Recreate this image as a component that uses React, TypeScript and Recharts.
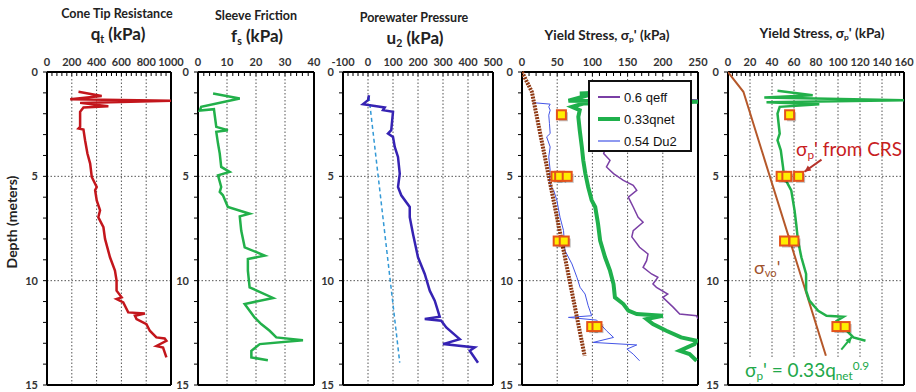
import React from "react";
import { ReferenceLine, Scatter, ScatterChart, XAxis, YAxis } from "recharts";

// [depth (m), value (kPa)]
type Pt = [number, number];

const qtProfile: Pt[] = [
  [0.95, 254], [1.15, 441], [1.3, 187], [1.38, 1000], [1.48, 267], [1.64, 495], [1.7, 294],
  [1.91, 267], [2.63, 267], [2.71, 254], [2.76, 294], [3.27, 307], [3.91, 326], [4.39, 348],
  [5.03, 361], [5.51, 401], [5.67, 388], [6.15, 401], [6.63, 428], [6.96, 414], [7.44, 455],
  [8.0, 468], [8.88, 508], [9.52, 548], [10.0, 561], [10.48, 561], [10.8, 602], [10.88, 561],
  [11.04, 615], [11.52, 655], [11.57, 789], [11.68, 709], [11.84, 722], [12.08, 802],
  [12.4, 829], [12.72, 882], [12.77, 949], [12.88, 963], [13.13, 882], [13.21, 936], [13.68, 963],
];

const fsProfile: Pt[] = [
  [1.03, 5.2], [1.27, 14.4], [1.67, 1.1], [1.85, 0.6], [1.78, 5.5], [2.0, 5.7], [2.63, 6.3],
  [2.79, 10.3], [2.87, 6.3], [3.43, 6.9], [3.91, 7.5], [4.55, 8.0], [4.79, 10.9], [4.95, 6.9],
  [5.51, 8.0], [5.75, 7.5], [5.91, 8.6], [6.47, 10.3], [6.79, 17.8], [6.92, 14.4], [7.6, 14.9],
  [8.4, 16.1], [8.8, 23.0], [8.96, 17.2], [9.52, 17.2], [10.32, 17.8], [10.83, 25.9],
  [11.12, 16.1], [11.76, 19.5], [12.08, 21.8], [12.4, 24.7], [12.72, 27.0], [12.85, 36.2],
  [13.04, 21.3], [13.36, 18.4], [13.68, 18.4], [13.81, 24.1],
];

const u2Profile: Pt[] = [
  [1.11, 4], [1.35, 0], [1.54, -20], [1.7, 67], [1.83, 60], [1.91, 100], [2.79, 93], [2.95, 80],
  [3.11, 100], [3.59, 107], [4.07, 120], [4.87, 127], [5.51, 120], [5.91, 133], [6.47, 167],
  [6.96, 167], [7.76, 180], [8.88, 200], [9.68, 227], [10.48, 247], [10.96, 267], [11.73, 287],
  [11.84, 227], [11.92, 293], [12.24, 313], [12.8, 367], [13.04, 300], [13.2, 427],
  [13.36, 407], [13.93, 440],
];

const u0Line: Pt[] = [[1.2, 4], [13.93, 127]];

const sigmaVo: Pt[] = [[0, 0], [0.95, 14], [13.6, 89]];

const qeff06: Pt[] = [
  [1.2, 150], [1.35, 252], [1.5, 240], [1.6, 140], [2.0, 130], [2.8, 125], [3.5, 120],
  [3.91, 116], [4.23, 125], [4.55, 120], [4.87, 130], [5.19, 144], [5.43, 158], [5.67, 163],
  [6.0, 151], [6.47, 158], [6.96, 165], [7.2, 172], [7.6, 158], [7.9, 156], [8.4, 167],
  [8.72, 179], [9.04, 177], [9.36, 172], [9.68, 184], [9.84, 193], [10.16, 186], [10.32, 191],
  [10.64, 207], [10.8, 200], [11.28, 215], [11.6, 224], [11.68, 248], [11.84, 250],
];

const qnet033: Pt[] = [
  [1.03, 82], [1.0, 106], [1.38, 66], [1.43, 250], [1.51, 87], [1.67, 71], [1.83, 82],
  [2.15, 80], [2.79, 82], [3.59, 85], [4.23, 87], [4.87, 90], [5.51, 94], [6.15, 99],
  [6.47, 104], [7.28, 108], [8.08, 111], [8.88, 118], [9.52, 125], [10.16, 130], [10.8, 132],
  [11.12, 144], [11.44, 151], [11.6, 163], [11.68, 200], [11.84, 177], [12.08, 186],
  [12.4, 205], [12.72, 226], [12.88, 248], [13.04, 245], [13.36, 224], [13.52, 238], [13.84, 248],
];

const du2054: Pt[] = [
  [1.47, 16], [1.54, 40], [1.67, 38], [1.83, 40], [2.07, 38], [2.47, 39], [2.95, 40],
  [3.11, 35], [3.59, 40], [4.07, 38], [4.71, 40], [5.19, 39], [5.51, 41], [5.67, 45],
  [6.15, 49.5], [6.96, 54], [7.6, 59], [8.56, 61], [9.2, 71], [9.84, 78], [10.32, 82.5],
  [10.64, 89.6], [11.2, 94], [11.68, 99], [11.76, 66], [11.89, 106], [12.4, 120], [12.72, 130],
  [12.96, 101], [13.08, 163], [13.28, 149], [13.52, 158], [13.84, 167],
];

const qnet09: Pt[] = [
  [0.9, 45], [1.11, 77], [1.22, 33], [1.35, 160], [1.45, 35], [1.54, 83], [1.67, 47],
  [1.99, 45], [2.95, 47], [3.27, 45], [3.75, 48], [4.55, 50], [5.03, 51], [5.67, 57.5],
  [6.63, 60.5], [7.28, 62], [8.08, 63.6], [8.88, 66.7], [9.68, 71], [10.48, 71], [10.96, 74],
  [11.44, 82], [11.68, 89.6], [11.73, 105], [11.92, 99], [12.4, 108], [12.72, 114], [12.88, 125],
];

// CRS oedometer preconsolidation stresses
const crsPoints: Pt[] = [
  [2.05, 56], [5.0, 48.3], [5.0, 53.5], [5.0, 64.2], [8.1, 51.4], [8.1, 60], [12.2, 99], [12.2, 106.5],
];

const depthTicks = Array.from({ length: 16 }, (_, i) => i);
const depthMajors = [0, 5, 10, 15];

const TOP = 72;
const BOTTOM = 385;
const H = 392;
const YW = 42;
const XH = 22;
const RM = 18;
const FONT = "Lato, 'Liberation Sans', Arial, sans-serif";

const rows = (pts: Pt[]) => pts.map(([d, v]) => ({ d, v }));
const noDot = () => null;

function XTick(props: any) {
  const { x, y, payload, majors } = props;
  if (!majors.includes(payload.value)) return null;
  return (
    <text x={x} y={y} textAnchor="middle" fontSize={11} fontWeight={700} fill="#333" fontFamily={FONT}>
      {payload.value}
    </text>
  );
}

function YTick(props: any) {
  const { x, y, payload } = props;
  if (!depthMajors.includes(payload.value)) return null;
  return (
    <text x={x} y={y} dy={4} textAnchor="end" fontSize={11} fontWeight={700} fill="#333" fontFamily={FONT}>
      {payload.value}
    </text>
  );
}

function CrsSquare(props: any) {
  const { cx, cy } = props;
  return (
    <g>
      <rect x={cx - 2.5} y={cy - 2.5} width={9} height={9} fill="rgba(0,0,0,0.25)" />
      <rect x={cx - 4.5} y={cy - 4.5} width={9} height={9} fill="#ffee00" stroke="#e4521b" strokeWidth={2} />
    </g>
  );
}

const arrowShape = (color: string) => (p: any) => {
  const { x1, y1, x2, y2 } = p;
  const a = Math.atan2(y2 - y1, x2 - x1);
  const s = 7;
  const h1 = [x2 - s * Math.cos(a - 0.45), y2 - s * Math.sin(a - 0.45)];
  const h2 = [x2 - s * Math.cos(a + 0.45), y2 - s * Math.sin(a + 0.45)];
  return (
    <g>
      <line x1={x1} y1={y1} x2={x2} y2={y2} stroke={color} strokeWidth={2} />
      <polygon points={`${x2},${y2} ${h1[0]},${h1[1]} ${h2[0]},${h2[1]}`} fill={color} />
    </g>
  );
};

interface PanelProps {
  left: number;
  right: number;
  domain: [number, number];
  majors: number[];
  minorStep: number;
  children?: React.ReactNode;
}

function Panel({ left, right, domain, majors, minorStep, children }: PanelProps) {
  const minors: number[] = [];
  for (let t = domain[0]; t <= domain[1] + 1e-9; t += minorStep) minors.push(Math.round(t * 1000) / 1000);
  const width = right - left + YW + RM;
  return (
    <div style={{ position: "absolute", left: left - YW, top: 0 }}>
      <ScatterChart width={width} height={H} margin={{ top: TOP - XH, right: RM, bottom: H - BOTTOM, left: 0 }}>
        <XAxis
          type="number"
          dataKey="v"
          orientation="top"
          domain={domain}
          ticks={minors}
          interval={0}
          height={XH}
          tickSize={-4}
          tickMargin={10}
          tick={<XTick majors={majors} />}
          axisLine={{ stroke: "#000", strokeWidth: 2 }}
          tickLine={{ stroke: "#000" }}
          allowDataOverflow
        />
        <YAxis
          type="number"
          dataKey="d"
          reversed
          domain={[0, 15]}
          ticks={depthTicks}
          interval={0}
          width={YW}
          tickSize={4}
          tickMargin={5}
          tick={<YTick />}
          axisLine={{ stroke: "#000", strokeWidth: 2 }}
          tickLine={{ stroke: "#000" }}
        />
        {majors
          .filter((m) => m > domain[0] && m < domain[1])
          .map((m) => (
            <ReferenceLine key={`x${m}`} x={m} stroke="#555" strokeDasharray="1.5 2" />
          ))}
        <ReferenceLine y={5} stroke="#555" strokeDasharray="1.5 2" />
        <ReferenceLine y={10} stroke="#555" strokeDasharray="1.5 2" />
        <ReferenceLine x={domain[1]} stroke="#000" strokeWidth={2} />
        <ReferenceLine y={15} stroke="#000" strokeWidth={2} />
        {children}
      </ScatterChart>
    </div>
  );
}

function Title({ cx, cy, size, weight = 700, color = "#222", children }: any) {
  return (
    <div
      style={{
        position: "absolute",
        left: cx - 150,
        top: cy - size * 0.6,
        width: 300,
        textAlign: "center",
        fontSize: size,
        fontWeight: weight,
        lineHeight: 1.2,
        color,
        fontFamily: FONT,
        whiteSpace: "nowrap",
      }}
    >
      {children}
    </div>
  );
}

const subStyle: React.CSSProperties = { fontSize: "0.62em", verticalAlign: "-0.25em", lineHeight: 0 };
const supStyle: React.CSSProperties = { fontSize: "0.62em", verticalAlign: "0.6em", lineHeight: 0 };

function Note({ left, top, size, color, bg, children }: any) {
  return (
    <div
      style={{
        position: "absolute",
        left,
        top,
        fontSize: size,
        color,
        fontFamily: FONT,
        lineHeight: 1.2,
        whiteSpace: "nowrap",
        background: bg,
        padding: bg ? "0 2px" : 0,
      }}
    >
      {children}
    </div>
  );
}

const legendItems = [
  { label: "0.6 qeff", color: "#7a3fa5", width: 2 },
  { label: "0.33qnet", color: "#1fb04c", width: 4 },
  { label: "0.54 Du2", color: "#4455e6", width: 1.2 },
];

export default function App() {
  return (
    <div style={{ position: "absolute", left: 0, top: 0, width: 916, height: 392, background: "#fff", overflow: "hidden" }}>
      <Panel left={47} right={171} domain={[0, 1000]} majors={[0, 200, 400, 600, 800, 1000]} minorStep={40}>
        <Scatter data={rows(qtProfile)} shape={noDot} line={{ stroke: "#c3161c", strokeWidth: 2.5 }} isAnimationActive={false} />
      </Panel>

      <Panel left={198} right={314} domain={[0, 40]} majors={[0, 10, 20, 30, 40]} minorStep={2}>
        <Scatter data={rows(fsProfile)} shape={noDot} line={{ stroke: "#22b04a", strokeWidth: 2.5 }} isAnimationActive={false} />
      </Panel>

      <Panel left={343} right={493} domain={[-100, 500]} majors={[-100, 0, 100, 200, 300, 400, 500]} minorStep={20}>
        <Scatter data={rows(u0Line)} shape={noDot} line={{ stroke: "#3399d6", strokeWidth: 1.5, strokeDasharray: "4 3" }} isAnimationActive={false} />
        <Scatter data={rows(u2Profile)} shape={noDot} line={{ stroke: "#3623b3", strokeWidth: 2.5 }} isAnimationActive={false} />
      </Panel>

      <Panel left={522} right={698} domain={[0, 250]} majors={[0, 50, 100, 150, 200, 250]} minorStep={10}>
        <Scatter data={rows(qeff06)} shape={noDot} line={{ stroke: "#7a3fa5", strokeWidth: 1.5 }} isAnimationActive={false} />
        <Scatter data={rows(du2054)} shape={noDot} line={{ stroke: "#4455e6", strokeWidth: 1 }} isAnimationActive={false} />
        <Scatter data={rows(qnet033)} shape={noDot} line={{ stroke: "#1fb04c", strokeWidth: 4 }} isAnimationActive={false} />
        <Scatter data={rows(sigmaVo)} shape={noDot} line={{ stroke: "#8e3812", strokeWidth: 4, strokeDasharray: "2 1" }} isAnimationActive={false} />
        <Scatter data={rows(crsPoints)} shape={<CrsSquare />} isAnimationActive={false} />
      </Panel>

      <Panel left={728} right={904} domain={[0, 160]} majors={[0, 20, 40, 60, 80, 100, 120, 140, 160]} minorStep={4}>
        <Scatter data={rows(sigmaVo)} shape={noDot} line={{ stroke: "#b5582a", strokeWidth: 2 }} isAnimationActive={false} />
        <Scatter data={rows(qnet09)} shape={noDot} line={{ stroke: "#22b04a", strokeWidth: 2.5 }} isAnimationActive={false} />
        <Scatter data={rows(crsPoints)} shape={<CrsSquare />} isAnimationActive={false} />
        <ReferenceLine segment={[{ x: 85, y: 4.2 }, { x: 69.5, y: 4.78 }]} shape={arrowShape("#b5322a")} />
        <ReferenceLine segment={[{ x: 103, y: 13.3 }, { x: 112.5, y: 12.7 }]} shape={arrowShape("#22b04a")} />
      </Panel>

      {/* panel titles */}
      <Title cx={117} cy={13} size={12.5}>Cone Tip Resistance</Title>
      <Title cx={118} cy={34} size={17}>
        q<span style={subStyle}>t</span> (kPa)
      </Title>
      <Title cx={256} cy={15} size={12.5}>Sleeve Friction</Title>
      <Title cx={257} cy={36} size={17}>
        f<span style={subStyle}>s</span> (kPa)
      </Title>
      <Title cx={414} cy={17} size={12.5}>Porewater Pressure</Title>
      <Title cx={415} cy={38} size={17}>
        u<span style={subStyle}>2</span> (kPa)
      </Title>
      <Title cx={607} cy={35} size={13.5}>
        Yield Stress, σ<span style={subStyle}>p</span>' (kPa)
      </Title>
      <Title cx={822} cy={33} size={13.5}>
        Yield Stress, σ<span style={subStyle}>p</span>' (kPa)
      </Title>

      <div
        style={{
          position: "absolute",
          left: 11,
          top: 222,
          transform: "translate(-50%, -50%) rotate(-90deg)",
          fontSize: 14,
          fontWeight: 700,
          fontFamily: FONT,
          color: "#222",
          whiteSpace: "nowrap",
        }}
      >
        Depth (meters)
      </div>

      {/* legend of the yield stress panel */}
      <div
        style={{
          position: "absolute",
          left: 588,
          top: 80,
          width: 104,
          height: 72,
          boxSizing: "border-box",
          border: "2px solid #111",
          background: "#fff",
          paddingTop: 4,
          fontFamily: "'Liberation Sans', Arial, sans-serif",
          fontSize: 13,
          color: "#111",
        }}
      >
        {legendItems.map((it) => (
          <div key={it.label} style={{ display: "flex", alignItems: "center", height: 22 }}>
            <svg width={26} height={10} style={{ marginLeft: 8 }}>
              <line x1={0} y1={5} x2={22} y2={5} stroke={it.color} strokeWidth={it.width} />
            </svg>
            <span>{it.label}</span>
          </div>
        ))}
      </div>

      {/* annotations */}
      <Note left={796} top={138} size={19} color="#c8201e">
        σ<span style={subStyle}>p</span>' from CRS
      </Note>
      <Note left={754} top={257} size={18} color="#a0522d">
        σ<span style={subStyle}>vo</span>'
      </Note>
      <Note left={743} top={359} size={19} color="#22a84a" bg="#fff">
        σ<span style={subStyle}>p</span>' = 0.33q<span style={subStyle}>net</span>
        <span style={supStyle}>0.9</span>
      </Note>
    </div>
  );
}
